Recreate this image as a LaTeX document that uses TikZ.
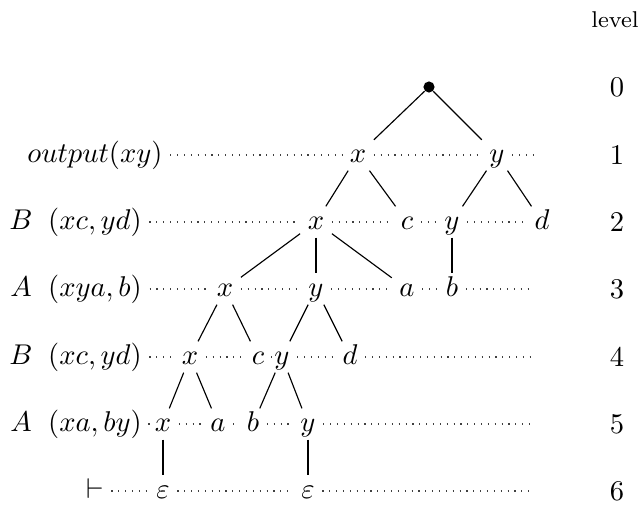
\documentclass[tikz,border=0pt]{standalone}
\begin{document}
\begin{tikzpicture}[x=0.35pt,y=-0.35pt,
  lt/.style={inner xsep=2.5pt,inner ysep=1.5pt,text height=1.5ex,text depth=.25ex},
  edge/.style={line width=0.4pt},
  dl/.style={dotted,line width=0.4pt,black!75}]
\useasboundingbox (0,0) rectangle (644,515);
% level column
\node[font=\footnotesize] (lvl) at (615,20) {level};
\foreach \i/\y in {0/87,1/155,2/222,3/289,4/357,5/424,6/491}
  \node (n\i) at (617,\y) {\i};
% level 0
\node[circle,fill,inner sep=0pt,minimum size=3.9pt] (root) at (429,87) {};
% level 1
\node[lt] (l1) at (95,155) {$output(xy)$};
\node[lt] (x1) at (358,155) {$x$};
\node[lt] (y1) at (497,155) {$y$};
\coordinate (end1) at (533,155);
% level 2
\node[lt] (B2) at (21,222) {$B$};
\node[lt] (l2) at (95,222) {$(xc,yd)$};
\node[lt] (x2) at (316,222) {$x$};
\node[lt] (c2) at (407,222) {$c$};
\node[lt] (y2) at (452,222) {$y$};
\node[lt] (d2) at (542,222) {$d$};
% level 3
\node[lt] (A3) at (21,289) {$A$};
\node[lt] (l3) at (95,289) {$(xya,b)$};
\node[lt] (x3) at (225,289) {$x$};
\node[lt] (y3) at (316,289) {$y$};
\node[lt] (a3) at (407,289) {$a$};
\node[lt] (b3) at (452,289) {$b$};
\coordinate (end3) at (533,289);
% level 4
\node[lt] (B4) at (21,357) {$B$};
\node[lt] (l4) at (95,357) {$(xc,yd)$};
\node[lt] (x4) at (190,357) {$x$};
\node[lt] (c4) at (258,357) {$c$};
\node[lt] (y4) at (282,357) {$y$};
\node[lt] (d4) at (350,357) {$d$};
\coordinate (end4) at (533,357);
% level 5
\node[lt] (A5) at (21,424) {$A$};
\node[lt] (l5) at (95,424) {$(xa,by)$};
\node[lt] (x5) at (163,424) {$x$};
\node[lt] (a5) at (218,424) {$a$};
\node[lt] (b5) at (253,424) {$b$};
\node[lt] (y5) at (308,424) {$y$};
\coordinate (end5) at (533,424);
% level 6
\node[lt] (t6) at (95,491) {$\vdash$};
\node[lt] (eps1) at (163,491) {$\varepsilon$};
\node[lt] (eps2) at (308,491) {$\varepsilon$};
\coordinate (end6) at (531,491);
% tree edges
\draw[edge] (root) -- (x1);
\draw[edge] (root) -- (y1);
\draw[edge] (x1) -- (x2);
\draw[edge] (x1) -- (c2);
\draw[edge] (y1) -- (y2);
\draw[edge] (y1) -- (d2);
\draw[edge] (x2) -- (x3);
\draw[edge] (x2) -- (y3);
\draw[edge] (x2) -- (a3);
\draw[edge] (y2) -- (b3);
\draw[edge] (x3) -- (x4);
\draw[edge] (x3) -- (c4);
\draw[edge] (y3) -- (y4);
\draw[edge] (y3) -- (d4);
\draw[edge] (x4) -- (x5);
\draw[edge] (x4) -- (a5);
\draw[edge] (y4) -- (b5);
\draw[edge] (y4) -- (y5);
\draw[edge] (x5) -- (eps1);
\draw[edge] (y5) -- (eps2);
% dotted level lines
\draw[dl] (l1) -- (x1) (x1) -- (y1) (y1) -- (end1);
\draw[dl] (l2) -- (x2) (x2) -- (c2) (c2) -- (y2) (y2) -- (d2);
\draw[dl] (l3) -- (x3) (x3) -- (y3) (y3) -- (a3) (a3) -- (b3) (b3) -- (end3);
\draw[dl] (l4) -- (x4) (x4) -- (c4) (c4) -- (y4) (y4) -- (d4) (d4) -- (end4);
\draw[dl] (l5) -- (x5) (x5) -- (a5) (a5) -- (b5) (b5) -- (y5) (y5) -- (end5);
\draw[dl] (t6) -- (eps1) (eps1) -- (eps2) (eps2) -- (end6);
\end{tikzpicture}
\end{document}
